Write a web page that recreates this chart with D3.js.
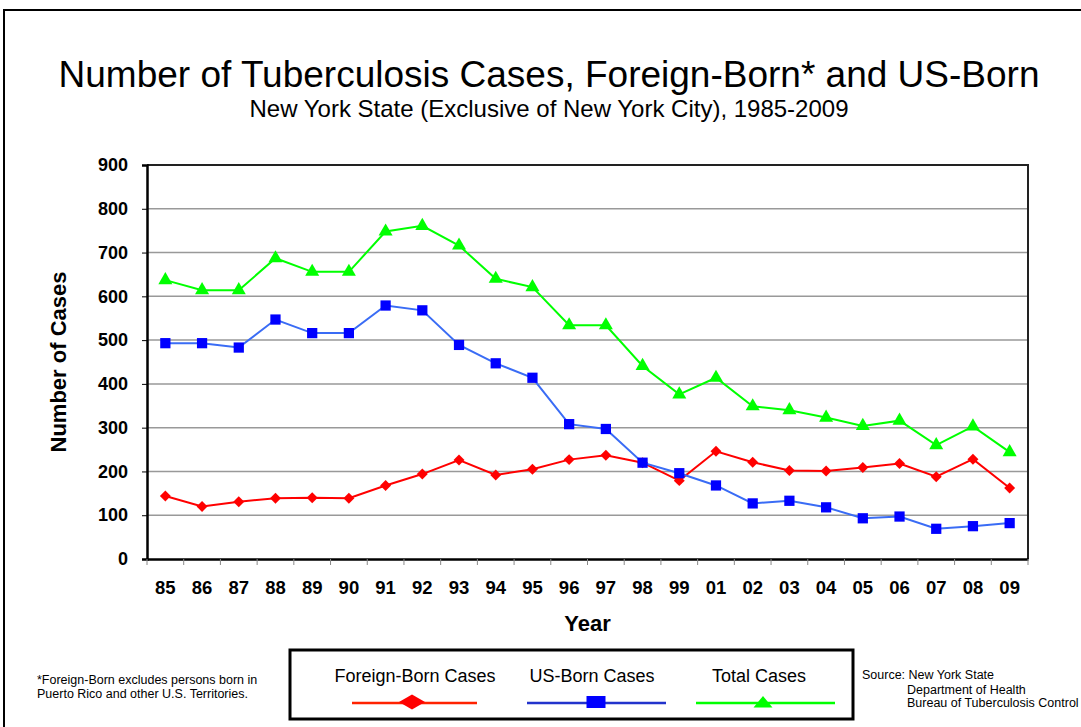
<!DOCTYPE html>
<html>
<head>
<meta charset="utf-8">
<script src="https://cdn.jsdelivr.net/npm/d3@7"></script>
<style>
  body { margin: 0; background: #fff; }
  svg { display: block; font-family: "Liberation Sans", Arial, sans-serif; }
</style>
</head>
<body>
<div id="chart"></div>
<script>
// Dados do gráfico //
const years = ["85","86","87","88","89","90","91","92","93","94","95","96","97","98","99","01","02","03","04","05","06","07","08","09"]
const foreignBorn = [144,120,131,139,140,139,168,194,226,192,205,227,237,220,179,246,221,202,201,209,218,188,228,162]
const usBorn = [493,493,483,547,516,516,579,568,489,447,414,308,297,220,196,168,127,133,118,93,97,69,75,82]
const totalCases = [637,614,614,687,656,656,748,761,716,640,621,534,534,441,376,414,349,340,323,304,316,260,303,244]
const yTicks = [0,100,200,300,400,500,600,700,800,900]

const W = 1081, H = 727
const svg = d3.select("#chart").append("svg")
    .attr("width", W).attr("height", H)

// moldura externa
svg.append("rect")
    .attr("x", 4).attr("y", 10).attr("width", W + 10).attr("height", H)
    .attr("fill", "none").attr("stroke", "#000").attr("stroke-width", 2)

// títulos
svg.append("text").attr("x", 549).attr("y", 87).attr("text-anchor", "middle")
    .attr("font-size", 37).text("Number of Tuberculosis Cases, Foreign-Born* and US-Born")
svg.append("text").attr("x", 549).attr("y", 117).attr("text-anchor", "middle")
    .attr("font-size", 24).text("New York State (Exclusive of New York City), 1985-2009")

const pLeft = 147, pRight = 1028, pTop = 165, pBottom = 559

const x = d3.scaleBand().domain(years).range([pLeft, pRight])
const y = d3.scaleLinear().domain([0, 900]).range([pBottom, pTop])

// linhas de grade
svg.append("g").selectAll("line").data(yTicks.filter(d => d > 0)).enter().append("line")
    .attr("x1", pLeft).attr("x2", pRight)
    .attr("y1", d => y(d)).attr("y2", d => y(d))
    .attr("stroke", "#999").attr("stroke-width", 1.5)

// borda superior e direita
svg.append("path")
    .attr("d", `M${pLeft},${pTop}H${pRight}V${pBottom}`)
    .attr("fill", "none").attr("stroke", "#222").attr("stroke-width", 2)

// eixo Y
const yAxis = svg.append("g")
    .attr("transform", `translate(${pLeft},0)`)
    .call(d3.axisLeft(y).tickValues(yTicks).tickSize(5).tickPadding(14))
yAxis.select(".domain").attr("stroke", "#000").attr("stroke-width", 2.5)
yAxis.selectAll(".tick line").attr("stroke", "#000").attr("stroke-width", 1)
yAxis.selectAll("text").attr("font-size", 18).attr("font-weight", "bold")
    .attr("font-family", "Liberation Sans, Arial, sans-serif").attr("fill", "#000")

// eixo X
const xAxis = svg.append("g")
    .attr("transform", `translate(0,${pBottom})`)
    .call(d3.axisBottom(x).tickSize(0).tickPadding(22))
xAxis.select(".domain").attr("stroke", "#000").attr("stroke-width", 2.5)
xAxis.selectAll("text").attr("font-size", 18.5).attr("font-weight", "bold")
    .attr("font-family", "Liberation Sans, Arial, sans-serif").attr("fill", "#000")
// marcas entre categorias
svg.append("g").selectAll("line").data(years.concat(["end"])).enter().append("line")
    .attr("x1", (d, i) => i < years.length ? x(d) : pRight)
    .attr("x2", (d, i) => i < years.length ? x(d) : pRight)
    .attr("y1", pBottom).attr("y2", pBottom + 6)
    .attr("stroke", "#888").attr("stroke-width", 1)

svg.append("text").attr("x", (pLeft + pRight) / 2).attr("y", 631).attr("text-anchor", "middle")
    .attr("font-size", 22).attr("font-weight", "bold").text("Year")
svg.append("text").attr("transform", `translate(66,${(pTop + pBottom) / 2}) rotate(-90)`)
    .attr("text-anchor", "middle").attr("font-size", 22).attr("font-weight", "bold")
    .text("Number of Cases")

// séries
const series = [
  { name: "Foreign-Born Cases", values: foreignBorn, line: "#ff0000", fill: "#ff0000", symbol: d3.symbolSquare, size: 60, rot: 45 },
  { name: "US-Born Cases", values: usBorn, line: "#3a6cf5", fill: "#0000ff", symbol: d3.symbolSquare, size: 105, rot: 0 },
  { name: "Total Cases", values: totalCases, line: "#00ff00", fill: "#00ff00", symbol: d3.symbolTriangle, size: 85, rot: 0 }
]

const cx = d => x(d) + x.bandwidth() / 2
const line = d3.line().x(d => cx(d.year)).y(d => y(d.value))

series.forEach(s => {
  const pts = years.map((yr, i) => ({ year: yr, value: s.values[i] }))
  svg.append("path").datum(pts)
      .attr("d", line).attr("fill", "none")
      .attr("stroke", s.line).attr("stroke-width", 2)
  svg.append("g").selectAll("path").data(pts).enter().append("path")
      .attr("d", d3.symbol().type(s.symbol).size(s.size))
      .attr("transform", d => `translate(${cx(d.year)},${y(d.value)}) rotate(${s.rot})`)
      .attr("fill", s.fill)
})

// legenda
svg.append("rect").attr("x", 290).attr("y", 650).attr("width", 563).attr("height", 69)
    .attr("fill", "#fff").attr("stroke", "#000").attr("stroke-width", 3)
const legendItems = [
  { tx: 415, mx: 412, x1: 352, x2: 477, color: "#ff2200", fill: "#ff0000",
    shape: "M-13,0L0,-7.5L13,0L0,7.5Z" },
  { tx: 592, mx: 596, x1: 527, x2: 666, color: "#2233cc", fill: "#0000ff",
    shape: "M-9.5,-6H9.5V6H-9.5Z" },
  { tx: 759, mx: 763, x1: 696, x2: 835, color: "#00ff00", fill: "#00ff00",
    shape: "M-9.5,5.5L0,-6L9.5,5.5Z" }
]
series.forEach((s, i) => {
  const L = legendItems[i]
  svg.append("text").attr("x", L.tx).attr("y", 682).attr("text-anchor", "middle")
      .attr("font-size", 18).text(s.name)
  svg.append("line").attr("x1", L.x1).attr("x2", L.x2).attr("y1", 703).attr("y2", 703)
      .attr("stroke", L.color).attr("stroke-width", 2.5)
  svg.append("path").attr("d", L.shape)
      .attr("transform", `translate(${L.mx},702)`).attr("fill", L.fill)
})

// notas
svg.append("text").attr("x", 37).attr("y", 684).attr("font-size", 12.5)
    .text("*Foreign-Born excludes persons born in")
svg.append("text").attr("x", 37).attr("y", 698).attr("font-size", 12.5)
    .text("Puerto Rico and other U.S. Territories.")
svg.append("text").attr("x", 862).attr("y", 679).attr("font-size", 12.5).text("Source: New York State")
svg.append("text").attr("x", 907).attr("y", 694).attr("font-size", 12.5).text("Department of Health")
svg.append("text").attr("x", 907).attr("y", 707).attr("font-size", 12.5).text("Bureau of Tuberculosis Control")
</script>
</body>
</html>
